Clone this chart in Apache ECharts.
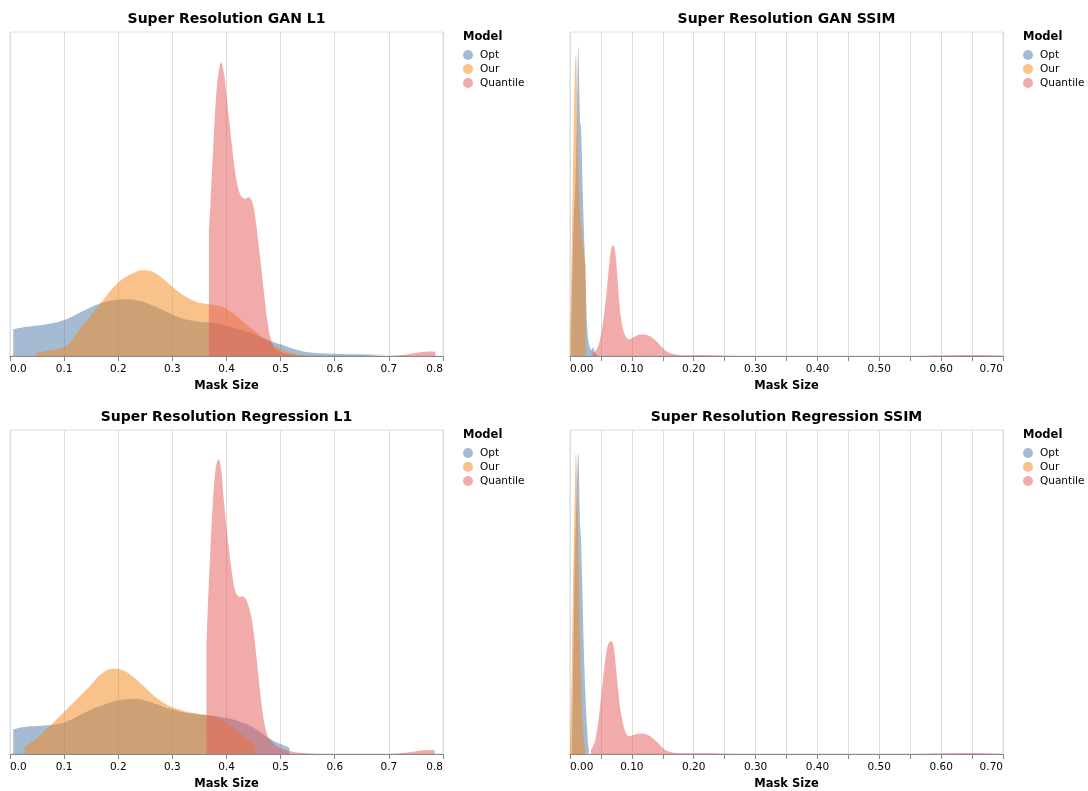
<!DOCTYPE html>
<html>
<head>
<meta charset="utf-8">
<script src="https://cdn.jsdelivr.net/npm/echarts@6/dist/echarts.min.js"></script>
<style>
  html, body { margin: 0; padding: 0; background: #fff; }
  #chart { width: 1088px; height: 791px; }
</style>
</head>
<body>
<div id="chart"></div>
<script>
// Legend categories and text
const MODELS = ['Opt', 'Our', 'Quantile'];
const PANEL_TITLES = [
  'Super Resolution GAN L1',
  'Super Resolution GAN SSIM',
  'Super Resolution Regression L1',
  'Super Resolution Regression SSIM'
];
const X_AXIS_TITLE = 'Mask Size';
const LEGEND_TITLE = 'Model';

// Kernel density estimates of mask size: [mask size, density]
const ganL1Opt = [[0.006,0.82],[0.01,0.84],[0.02,0.87],[0.03,0.9],[0.04,0.92],[0.05,0.94],[0.06,0.96],[0.07,0.99],[0.08,1.02],[0.09,1.06],[0.1,1.11],[0.11,1.18],[0.12,1.26],[0.13,1.35],[0.14,1.43],[0.15,1.51],[0.16,1.58],[0.17,1.64],[0.18,1.69],[0.19,1.72],[0.2,1.74],[0.21,1.75],[0.22,1.75],[0.23,1.73],[0.24,1.7],[0.25,1.65],[0.26,1.58],[0.27,1.51],[0.28,1.44],[0.29,1.36],[0.3,1.28],[0.31,1.21],[0.32,1.15],[0.33,1.11],[0.34,1.08],[0.35,1.06],[0.36,1.04],[0.37,1.03],[0.38,1.01],[0.39,0.98],[0.4,0.94],[0.41,0.89],[0.42,0.84],[0.43,0.79],[0.44,0.74],[0.45,0.68],[0.46,0.61],[0.47,0.54],[0.48,0.47],[0.49,0.41],[0.5,0.36],[0.51,0.3],[0.52,0.24],[0.53,0.19],[0.54,0.15],[0.55,0.12],[0.56,0.1],[0.58,0.08],[0.6,0.07],[0.63,0.055],[0.66,0.05],[0.697,0.04]];
const ganL1Our = [[0.048,0.1],[0.06,0.13],[0.07,0.16],[0.08,0.19],[0.09,0.22],[0.1,0.27],[0.11,0.4],[0.12,0.62],[0.13,0.85],[0.14,1.06],[0.15,1.26],[0.16,1.47],[0.17,1.68],[0.18,1.9],[0.19,2.1],[0.2,2.27],[0.21,2.4],[0.22,2.5],[0.23,2.58],[0.24,2.64],[0.25,2.65],[0.26,2.62],[0.27,2.54],[0.28,2.42],[0.29,2.28],[0.3,2.14],[0.31,2.0],[0.32,1.88],[0.33,1.78],[0.34,1.7],[0.35,1.64],[0.36,1.61],[0.37,1.59],[0.38,1.57],[0.39,1.53],[0.4,1.45],[0.41,1.34],[0.42,1.21],[0.43,1.07],[0.44,0.93],[0.45,0.8],[0.46,0.66],[0.47,0.53],[0.48,0.41],[0.49,0.31],[0.5,0.22],[0.51,0.15],[0.52,0.09],[0.53,0.05],[0.54,0.02],[0.548,0.01]];
const ganL1Quantile = [[0.3675,3.8],[0.37,4.6],[0.375,6.3],[0.38,7.8],[0.385,8.7],[0.39,9.05],[0.395,8.75],[0.4,8.05],[0.405,7.25],[0.41,6.5],[0.415,5.8],[0.42,5.3],[0.425,5.0],[0.43,4.88],[0.435,4.85],[0.44,4.9],[0.445,4.85],[0.45,4.6],[0.455,4.05],[0.46,3.35],[0.465,2.6],[0.47,1.85],[0.475,1.15],[0.48,0.65],[0.485,0.38],[0.49,0.22],[0.5,0.12],[0.51,0.07],[0.52,0.04],[0.54,0.015],[0.56,0.005],[0.6,0.0],[0.65,0.0],[0.7,0.0],[0.72,0.02],[0.74,0.07],[0.76,0.12],[0.775,0.14],[0.786,0.13]];

const ganSsimOpt = [[0.002,3.0],[0.004,16],[0.006,25],[0.008,30],[0.0100,37],[0.0115,47],[0.0125,54],[0.0134,57.2],[0.0143,54],[0.0155,47],[0.0165,43],[0.0177,42.5],[0.019,38],[0.0205,31],[0.022,25],[0.0235,20],[0.025,15],[0.0265,9],[0.028,5],[0.0295,3.2],[0.031,2.1],[0.033,1.4],[0.0345,1.1],[0.036,1.3],[0.0377,1.6],[0.039,1.1],[0.041,0.5],[0.045,0.06]];
const ganSsimOur = [[0.0,3.0],[0.0015,11],[0.003,21],[0.0045,32],[0.006,42],[0.0075,51],[0.0088,55],[0.0097,55.7],[0.0108,52],[0.0118,45],[0.013,37],[0.0145,31],[0.016,27],[0.0175,24.5],[0.019,22.5],[0.0205,21],[0.022,19.5],[0.0235,18],[0.0253,17]];
const ganSsimQuantile = [[0.036,0.6],[0.04,0.8],[0.044,1.4],[0.048,2.8],[0.052,5.2],[0.056,8.6],[0.06,12.8],[0.064,17.6],[0.067,20.0],[0.07,20.5],[0.073,19.4],[0.076,15.6],[0.079,10.8],[0.082,7.4],[0.086,4.9],[0.09,3.6],[0.095,3.1],[0.1,3.3],[0.105,3.6],[0.11,3.9],[0.115,4.0],[0.12,4.0],[0.125,3.85],[0.13,3.6],[0.135,3.2],[0.14,2.7],[0.145,2.1],[0.15,1.5],[0.155,0.95],[0.16,0.6],[0.167,0.36],[0.178,0.2],[0.19,0.14],[0.205,0.18],[0.225,0.16],[0.245,0.1],[0.27,0.02],[0.3,0.0],[0.55,0.0],[0.58,0.05],[0.61,0.12],[0.64,0.17],[0.67,0.17],[0.7,0.15]];

const regL1Opt = [[0.006,0.76],[0.02,0.82],[0.03,0.84],[0.04,0.855],[0.05,0.865],[0.06,0.875],[0.07,0.885],[0.08,0.9],[0.09,0.93],[0.1,0.97],[0.11,1.04],[0.12,1.12],[0.13,1.21],[0.14,1.29],[0.15,1.37],[0.16,1.44],[0.17,1.5],[0.18,1.56],[0.19,1.61],[0.2,1.65],[0.21,1.68],[0.22,1.7],[0.23,1.705],[0.24,1.69],[0.25,1.65],[0.26,1.6],[0.27,1.54],[0.28,1.48],[0.29,1.42],[0.3,1.37],[0.31,1.33],[0.32,1.29],[0.33,1.26],[0.34,1.24],[0.35,1.22],[0.36,1.205],[0.37,1.19],[0.38,1.17],[0.39,1.14],[0.4,1.11],[0.41,1.07],[0.42,1.03],[0.43,0.97],[0.44,0.9],[0.45,0.81],[0.46,0.7],[0.47,0.58],[0.48,0.47],[0.49,0.38],[0.5,0.31],[0.51,0.24],[0.516,0.2]];
const regL1Our = [[0.027,0.23],[0.035,0.32],[0.045,0.43],[0.055,0.57],[0.065,0.74],[0.075,0.89],[0.085,1.05],[0.095,1.21],[0.105,1.38],[0.115,1.55],[0.125,1.72],[0.135,1.88],[0.145,2.05],[0.155,2.24],[0.165,2.42],[0.175,2.55],[0.185,2.62],[0.195,2.635],[0.205,2.61],[0.215,2.53],[0.225,2.41],[0.235,2.28],[0.245,2.12],[0.255,1.96],[0.265,1.81],[0.275,1.68],[0.285,1.57],[0.295,1.48],[0.305,1.41],[0.315,1.36],[0.325,1.31],[0.335,1.28],[0.345,1.25],[0.355,1.22],[0.365,1.2],[0.375,1.16],[0.385,1.1],[0.395,1.01],[0.405,0.9],[0.415,0.78],[0.425,0.65],[0.435,0.52],[0.445,0.4],[0.452,0.33]];
const regL1Quantile = [[0.363,3.3],[0.365,4.3],[0.37,6.2],[0.375,7.8],[0.38,8.8],[0.385,9.1],[0.39,8.8],[0.395,7.85],[0.4,7.0],[0.405,6.25],[0.41,5.6],[0.415,5.1],[0.42,4.9],[0.425,4.85],[0.43,4.87],[0.435,4.8],[0.44,4.6],[0.445,4.3],[0.45,3.8],[0.455,3.05],[0.46,2.25],[0.465,1.5],[0.47,0.95],[0.475,0.6],[0.48,0.45],[0.49,0.28],[0.5,0.18],[0.51,0.12],[0.52,0.08],[0.535,0.04],[0.56,0.01],[0.6,0.0],[0.7,0.0],[0.72,0.02],[0.74,0.06],[0.76,0.11],[0.775,0.12],[0.785,0.11]];

const regSsimOpt = [[0.003,0.5],[0.005,15],[0.0065,28],[0.008,37],[0.0095,43],[0.0108,48],[0.012,53],[0.0134,55.8],[0.0145,52],[0.0155,46],[0.0165,42],[0.0177,40],[0.019,35],[0.0205,28],[0.022,21],[0.0235,15.5],[0.025,11],[0.0265,7],[0.028,4],[0.0296,1.5],[0.0312,0.2]];
const regSsimOur = [[0.0,1.3],[0.0015,8],[0.003,17],[0.0045,28],[0.006,38],[0.0075,47],[0.0088,53.5],[0.0097,55.8],[0.0107,53],[0.0118,47],[0.013,40],[0.014,34],[0.0152,27],[0.0165,20],[0.0178,14],[0.019,9.5],[0.0205,5.6],[0.022,3],[0.0235,1.5],[0.0253,0.3]];
const regSsimQuantile = [[0.034,0.74],[0.038,1.6],[0.042,3.2],[0.046,6.2],[0.05,10.2],[0.054,14.4],[0.058,18.2],[0.062,20.4],[0.066,20.9],[0.069,20.6],[0.072,18.6],[0.075,15.2],[0.078,11.6],[0.081,8.6],[0.085,6.0],[0.09,4.0],[0.095,3.3],[0.1,3.4],[0.105,3.6],[0.11,3.75],[0.115,3.8],[0.12,3.75],[0.125,3.55],[0.13,3.25],[0.135,2.8],[0.14,2.3],[0.145,1.7],[0.15,1.1],[0.155,0.7],[0.1615,0.42],[0.172,0.2],[0.183,0.12],[0.2,0.16],[0.22,0.16],[0.245,0.1],[0.27,0.02],[0.3,0.0],[0.55,0.0],[0.58,0.05],[0.61,0.12],[0.64,0.17],[0.67,0.15],[0.7,0.12]];

// Axis extents: L1 panels span 0–0.8, SSIM panels span 0–0.7
const L1_X_MAX = 0.8, L1_X_STEP = 0.1;
const SSIM_X_MAX = 0.7, SSIM_X_STEP = 0.05;
const L1_Y_MAX = 10, SSIM_Y_MAX = 60;

const COLORS = ['#4c78a8', '#f58518', '#e45756'];
const FONT = 'DejaVu Sans';

const panels = [
  { title: PANEL_TITLES[0], left: 10,  top: 32,  xMax: L1_X_MAX,   step: L1_X_STEP,   yMax: L1_Y_MAX,   series: [ganL1Opt, ganL1Our, ganL1Quantile], digits: 1 },
  { title: PANEL_TITLES[1], left: 570, top: 32,  xMax: SSIM_X_MAX, step: SSIM_X_STEP, yMax: SSIM_Y_MAX, series: [ganSsimOpt, ganSsimOur, ganSsimQuantile], digits: 2 },
  { title: PANEL_TITLES[2], left: 10,  top: 430, xMax: L1_X_MAX,   step: L1_X_STEP,   yMax: L1_Y_MAX,   series: [regL1Opt, regL1Our, regL1Quantile], digits: 1 },
  { title: PANEL_TITLES[3], left: 570, top: 430, xMax: SSIM_X_MAX, step: SSIM_X_STEP, yMax: SSIM_Y_MAX, series: [regSsimOpt, regSsimOur, regSsimQuantile], digits: 2 }
];
const PLOT_W = 433, PLOT_H = 324;

const grid = panels.map(p => ({
  left: p.left, top: p.top, width: PLOT_W, height: PLOT_H,
  show: true, borderColor: '#ddd', borderWidth: 1, backgroundColor: 'transparent'
}));

const xAxis = panels.map((p, i) => ({
  type: 'value', gridIndex: i, min: 0, max: p.xMax, interval: p.step,
  name: X_AXIS_TITLE, nameLocation: 'middle', nameGap: 24,
  nameTextStyle: { fontFamily: FONT, fontSize: 11.5, fontWeight: 'bold', color: '#000' },
  axisLine: { show: true, onZero: false, lineStyle: { color: '#888', width: 1 } },
  axisTick: { show: true, length: 5, lineStyle: { color: '#888', width: 1 } },
  splitLine: { show: true, lineStyle: { color: '#ddd', width: 1 } },
  axisLabel: {
    fontFamily: FONT, fontSize: 10.5, color: '#000', margin: 8,
    alignMinLabel: 'left', alignMaxLabel: 'right',
    showMinLabel: true, showMaxLabel: true,
    formatter: v => {
      if (p.digits === 2) {
        return Math.round(v * 100) % 10 === 0 ? v.toFixed(2) : '';
      }
      return v.toFixed(1);
    }
  }
}));

const yAxis = panels.map((p, i) => ({
  type: 'value', gridIndex: i, min: 0, max: p.yMax, show: false,
  splitLine: { show: false }
}));

const series = [];
panels.forEach((p, i) => {
  p.series.forEach((data, j) => {
    series.push({
      type: 'line', name: MODELS[j], xAxisIndex: i, yAxisIndex: i,
      data: data, symbol: 'none', showSymbol: false,
      smooth: 0.4,
      lineStyle: { width: 0, opacity: 0 },
      itemStyle: { color: COLORS[j] },
      areaStyle: { color: COLORS[j], opacity: 0.5 },
      silent: true, z: 2 + j
    });
  });
});

const legend = panels.map(p => ({
  left: p.left + 453, top: p.top + 17, orient: 'vertical',
  icon: 'circle', itemWidth: 10, itemHeight: 10, itemGap: 2,
  padding: 0,
  selectedMode: false, data: MODELS,
  itemStyle: { opacity: 0.5 },
  textStyle: { fontFamily: FONT, fontSize: 10.5, color: '#000', lineHeight: 12, padding: [0, 0, 0, 2] }
}));

const graphic = [];
panels.forEach(p => {
  graphic.push({
    type: 'text', x: p.left + PLOT_W / 2, y: p.top - 13,
    style: { text: p.title, fontFamily: FONT, fontSize: 14, fontWeight: 'bold', fill: '#000', textAlign: 'center', textVerticalAlign: 'middle' }
  });
  graphic.push({
    type: 'text', x: p.left + 453, y: p.top + 5,
    style: { text: LEGEND_TITLE, fontFamily: FONT, fontSize: 11.5, fontWeight: 'bold', fill: '#000', textAlign: 'left', textVerticalAlign: 'middle' }
  });
});

const chart = echarts.init(document.getElementById('chart'), null, { renderer: 'canvas' });
chart.setOption({
  animation: false,
  backgroundColor: '#fff',
  grid, xAxis, yAxis, series, legend, graphic
});
</script>
</body>
</html>
